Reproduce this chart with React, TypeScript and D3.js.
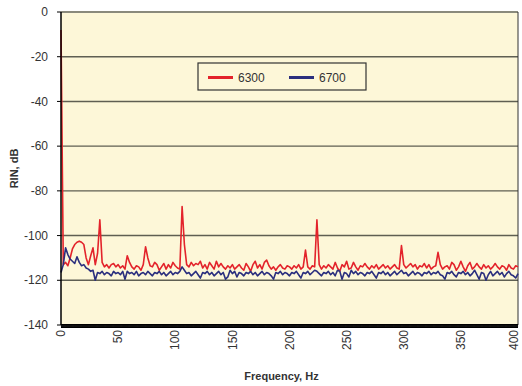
import * as d3 from 'd3'

// RIN spectra, one value every 2 Hz from 0 to 400 Hz
const freqs = d3.range(0, 401, 2)

const rin6300 = [
  -8, -113, -112, -113.5, -110, -106, -104, -103, -102.5, -103,
  -104, -110, -113, -109, -105.5, -113, -108, -93, -112, -114,
  -113, -114.5, -113, -112.5, -114, -113, -114.5, -113.5, -115, -109,
  -112, -114, -115, -113.5, -114, -115.5, -113, -105, -110, -113.5,
  -114, -112, -113, -115.5, -114, -112.5, -115, -113, -114.5, -112,
  -113.5, -114.5, -115, -87, -104, -113, -114, -112, -113.5, -112.5,
  -113, -111.5, -114.5, -113, -115, -112, -113.5, -115, -111.5, -114,
  -112.5, -114, -115, -113.5, -114.5, -113, -115, -114, -113, -114.5,
  -115.5, -112.5, -114, -116, -113, -111.5, -114.5, -113, -115, -112,
  -111, -113.5, -115, -114, -115.5, -114, -113, -114.5, -115, -113.5,
  -114, -115, -113.5, -114.5, -113, -115, -114, -106.5, -114, -115,
  -113.5, -114, -93, -113, -115, -113.5, -114.5, -113, -114, -115,
  -112, -114.5, -116, -113, -114, -111.5, -115, -114.5, -112, -114,
  -115.5, -113.5, -114, -112.5, -114, -115, -113.5, -114.5, -113, -115,
  -114, -113, -114.5, -113.5, -115, -114, -113, -114.5, -115, -104.5,
  -113, -114.5, -113.5, -112.5, -114, -113, -115, -113.5, -114, -112.5,
  -114.5, -113, -115, -114, -113.5, -107.5, -113, -115, -114, -113.5,
  -115, -112, -113, -115.5, -114, -111.5, -114, -116, -113.5, -112,
  -115, -114, -112.5, -114, -115, -113, -114.5, -113.5, -115, -114,
  -112.5, -114, -115, -113.5, -114, -115.5, -113, -114.5, -115, -113.5,
  -114,
]

const rin6700 = [
  -116.5, -113, -105.5, -108.5, -110.5, -111.5, -112.5, -109.5, -112, -113.5,
  -113, -114.5, -115, -116, -115.5, -120, -116.5, -117, -116, -117.5,
  -116.5, -117, -118, -116, -117, -116.5, -117.5, -116, -119.5, -116,
  -117, -116.5, -117.5, -116, -118, -117, -116.5, -117.5, -116, -117,
  -118, -116.5, -117, -116, -117.5, -116.5, -118, -117, -116, -117.5,
  -116.5, -117, -116, -114, -115.5, -117, -116.5, -118, -117, -116,
  -117.5, -119, -116.5, -117, -116, -117.5, -116.5, -118, -117, -116,
  -117.5, -116.5, -119.5, -118.5, -115.5, -117, -116, -118.5, -116.5, -117,
  -118, -116.5, -117, -116, -117.5, -116.5, -118, -117, -116, -117.5,
  -116.5, -117, -118, -119.5, -116.5, -117, -116, -117.5, -116.5, -117,
  -118, -116.5, -117, -116, -117.5, -119, -116.5, -117, -116, -117.5,
  -116.5, -115.5, -116, -117, -118, -116.5, -117, -116, -117.5, -116.5,
  -118, -115.5, -116, -119.5, -116.5, -117, -118.5, -115.5, -117, -116,
  -117.5, -116.5, -117, -118, -116.5, -117, -116, -117.5, -119, -116.5,
  -117, -116, -117.5, -116.5, -118, -117, -116, -117.5, -116.5, -115.5,
  -117, -116.5, -118, -117, -116, -117.5, -116.5, -117, -118, -116.5,
  -117, -116, -117.5, -116.5, -117, -116, -117.5, -118, -119.5, -116.5,
  -117, -116, -117.5, -118.5, -116.5, -117, -116, -117.5, -116.5, -118,
  -117, -115.5, -117.5, -119.5, -116.5, -117, -120, -117.5, -116, -118,
  -117, -116, -117.5, -116.5, -118.5, -117, -116, -117.5, -118, -119,
  -117,
]

const seriesNames = ['6300', '6700']
const seriesColors = ['#e3232b', '#2b2f7e']
const xTicks = [0, 50, 100, 150, 200, 250, 300, 350, 400]
const yTicks = [0, -20, -40, -60, -80, -100, -120, -140]

const W = 522
const H = 386
const left = 61
const right = 518
const top = 12
const bottom = 325
const font = 'Liberation Sans, Arial, Helvetica, sans-serif'

export default function App() {
  const x = d3.scaleLinear().domain([0, 400]).range([left, right])
  const y = d3.scaleLinear().domain([-140, 0]).range([bottom, top])

  const line = d3.line<number>()
    .x((d, i) => x(freqs[i]))
    .y((d) => y(d))

  const series = [rin6300, rin6700]
  const minorTicks = d3.range(0, 401, 1)

  return (
    <svg width={W} height={H} style={{ position: 'absolute', left: 0, top: 0, background: '#fff' }}>
      <rect x={left} y={top} width={right - left} height={bottom - top} fill='#fdf7d8' />

      {/* grid */}
      {yTicks.filter((t) => t > -140 && t < 0).map((t) => (
        <line key={t} x1={left} x2={right} y1={y(t)} y2={y(t)} stroke='#5f5f52' strokeWidth={1.4} />
      ))}
      <line x1={left} x2={right} y1={top} y2={top} stroke='#8a8a7c' strokeWidth={2} />
      <line x1={right} x2={right} y1={top} y2={bottom} stroke='#333' strokeWidth={1} />

      {/* data */}
      {series.map((s, i) => (
        <path key={i} d={line(s) || ''} fill='none' stroke={seriesColors[i]} strokeWidth={1.6} strokeLinejoin='round' />
      ))}

      {/* y axis */}
      <line x1={left} x2={left} y1={top} y2={bottom} stroke='#000' strokeWidth={1.5} />
      {yTicks.map((t) => (
        <g key={t}>
          <line x1={left - 4} x2={left} y1={y(t)} y2={y(t)} stroke='#000' strokeWidth={1} />
          <text x={48} y={y(t)} dy='0.35em' textAnchor='end' fontFamily={font} fontSize={12} fill='#333'>{t}</text>
        </g>
      ))}

      {/* x axis */}
      <rect x={left} y={bottom - 1} width={right - left} height={4} fill='#000' />
      {minorTicks.map((t) => (
        <line key={t} x1={x(t)} x2={x(t)} y1={bottom + 0.5} y2={bottom + 1.5} stroke='#666' strokeWidth={0.4} />
      ))}
      {xTicks.map((t) => (
        <text key={t} transform={`translate(${Math.min(x(t), 514)},${bottom + 5}) rotate(-90)`} dy='0.35em' textAnchor='end'
          fontFamily={font} fontSize={12} fill='#333'>{t}</text>
      ))}

      {/* titles */}
      <text x={(left + right) / 2 - 8} y={380} textAnchor='middle' fontFamily={font} fontSize={11} fontWeight='bold' fill='#333'>Frequency, Hz</text>
      <text transform={`translate(18,${(top + bottom) / 2}) rotate(-90)`} textAnchor='middle' fontFamily={font} fontSize={11} fontWeight='bold' fill='#333'>RIN, dB</text>

      {/* legend */}
      <g transform='translate(198,63)'>
        <rect x={0} y={0} width={168} height={27} fill='#fdf7d8' stroke='#333' strokeWidth={1.2} />
        {seriesNames.map((n, i) => (
          <g key={n} transform={`translate(${10 + i * 81},0)`}>
            <line x1={0} x2={25} y1={14.5} y2={14.5} stroke={seriesColors[i]} strokeWidth={3} />
            <text x={30} y={14.5} dy='0.35em' fontFamily={font} fontSize={12} fill='#333'>{n}</text>
          </g>
        ))}
      </g>
    </svg>
  )
}
